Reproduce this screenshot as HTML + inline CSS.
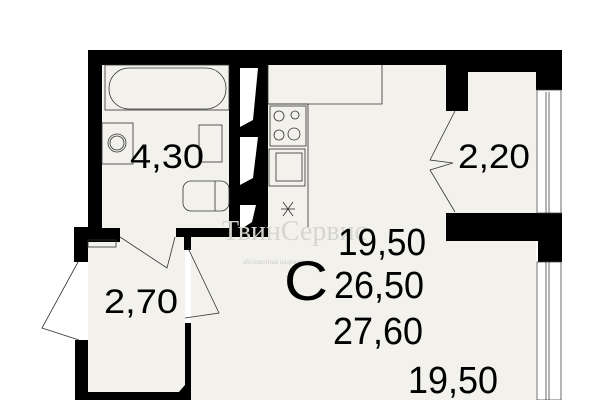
<!DOCTYPE html>
<html><head><meta charset="utf-8"><style>
html,body{margin:0;padding:0;background:#fff;width:600px;height:400px;overflow:hidden}
text{font-family:"Liberation Sans",sans-serif;fill:#000}
</style></head><body>
<svg width="600" height="400" viewBox="0 0 600 400" xmlns="http://www.w3.org/2000/svg">
<rect width="600" height="400" fill="#fff"/>
<!-- floor fill -->
<path d="M102 65 H446 V111 H468 V72 H536 V400 H191 V242 H102 Z" fill="#f2f1ec"/>
<rect x="88" y="242" width="97" height="150" fill="#f2f1ec"/>
<!-- walls -->
<g fill="#000">
<rect x="88" y="50" width="474" height="15"/>
<rect x="468" y="50" width="94" height="22"/>
<rect x="536" y="50" width="26" height="40"/>
<rect x="446" y="50" width="22" height="61"/>
<rect x="88" y="50" width="14" height="190"/>
<rect x="88" y="228" width="32" height="14"/>
<rect x="176" y="228" width="92" height="9"/>
<rect x="74" y="227" width="14" height="35"/>
<rect x="75" y="340" width="13" height="60"/>
<rect x="88" y="392" width="102" height="8"/>
<rect x="185" y="323" width="6" height="77"/>
<polygon points="172,400 185,385 185,400"/>
<rect x="184" y="235" width="7" height="15"/>
<rect x="229" y="65" width="39" height="172"/>
<rect x="446" y="213" width="100" height="28"/>
<rect x="538" y="213" width="24" height="49"/>
</g>
<!-- shafts -->
<polygon points="240,68 258,68 253,120 240,127" fill="#fff"/>
<polygon points="240,137 258,137 253,178 240,185" fill="#fff"/>
<polygon points="240,205 256,205 252,222 240,230" fill="#fff"/>
<text x="240" y="200" font-size="5" fill="#000">300 / 400</text>
<!-- windows -->
<g fill="#fff" stroke="#444" stroke-width="0.8">
<rect x="537" y="90" width="24" height="123"/>
<rect x="537" y="262" width="24" height="138"/>
</g>
<line x1="546" y1="92" x2="546" y2="213" stroke="#444" stroke-width="0.8"/>
<line x1="549" y1="92" x2="549" y2="213" stroke="#444" stroke-width="0.8"/>
<line x1="546" y1="262" x2="546" y2="400" stroke="#444" stroke-width="0.8"/>
<line x1="549" y1="262" x2="549" y2="400" stroke="#444" stroke-width="0.8"/>
<!-- fixtures -->
<g fill="none" stroke="#333" stroke-width="0.8">
<rect x="105" y="65" width="124" height="45"/>
<rect x="109" y="68" width="117" height="41" rx="20"/>
<rect x="102" y="123" width="31" height="41"/>
<circle cx="117" cy="143" r="9"/><circle cx="117" cy="143" r="7"/>
<rect x="199" y="125" width="23" height="37"/>
<rect x="183" y="181" width="46" height="30" rx="8"/>
<line x1="215" y1="181" x2="215" y2="211"/>
<path d="M268 65 V104 H382 V65"/>
<path d="M268 104 H308 V228"/>
<rect x="270" y="106" width="36" height="40"/>
<circle cx="279" cy="116" r="5"/><circle cx="295" cy="115" r="4"/>
<circle cx="279" cy="135" r="5"/><circle cx="294" cy="134" r="6"/>
<rect x="269" y="149" width="36" height="37"/>
<rect x="276" y="153" width="26" height="28"/>
<line x1="283" y1="202" x2="293" y2="216"/><line x1="293" y1="202" x2="283" y2="216"/><line x1="281" y1="209" x2="295" y2="209"/>
<!-- doors -->
<polyline points="455,111 430,160 453,163 430,170 455,212"/>
<polyline points="120,237 167,268 175,237"/>
<polyline points="188,248 219,313 185,318"/>
<polyline points="78,262 42,328 79,340"/>
<rect x="88" y="240" width="28" height="7"/>
</g>
<!-- watermark -->
<text x="222" y="240" font-size="28" font-family="Liberation Serif" fill="#d6d5d0" style="fill:#d6d5d0;font-family:'Liberation Serif',serif">ТвинСервис</text>
<text x="243" y="264" font-size="7" style="fill:#ccc;font-family:'Liberation Serif',serif">абсолютная надежность</text>
<!-- labels -->
<text x="130" y="168" font-size="34" textLength="74" lengthAdjust="spacingAndGlyphs">4,30</text>
<text x="458" y="168" font-size="34" textLength="72" lengthAdjust="spacingAndGlyphs">2,20</text>
<text x="338" y="255" font-size="38" textLength="88" lengthAdjust="spacingAndGlyphs">19,50</text>
<text x="284" y="300" font-size="56" textLength="44" lengthAdjust="spacingAndGlyphs">C</text>
<text x="334" y="298" font-size="38" textLength="90" lengthAdjust="spacingAndGlyphs">26,50</text>
<text x="333" y="344" font-size="38" textLength="90" lengthAdjust="spacingAndGlyphs">27,60</text>
<text x="408" y="393" font-size="38" textLength="90" lengthAdjust="spacingAndGlyphs">19,50</text>
<text x="104" y="313" font-size="34" textLength="74" lengthAdjust="spacingAndGlyphs">2,70</text>
</svg>
</body></html>
